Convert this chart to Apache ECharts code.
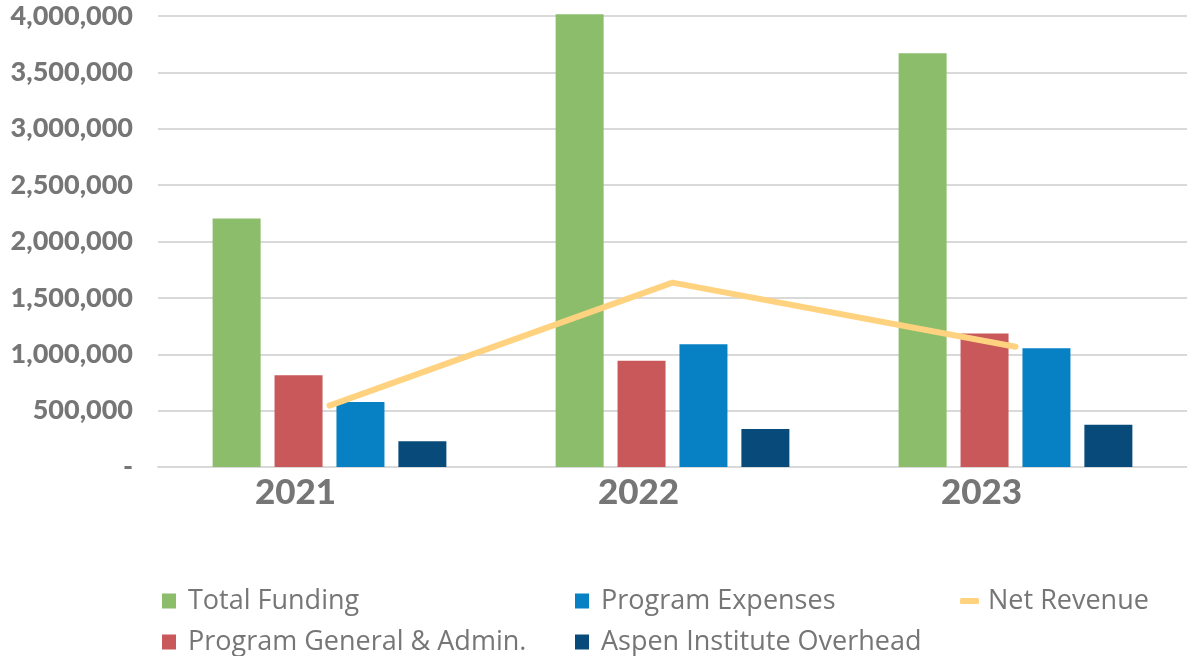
<!DOCTYPE html>
<html>
<head>
<meta charset="utf-8">
<script src="https://cdn.jsdelivr.net/npm/echarts@6/dist/echarts.min.js"></script>
<style>
  html, body { margin: 0; padding: 0; background: #fff; }
  #chart { width: 1187px; height: 656px; }
</style>
</head>
<body>
<div id="chart"></div>
<script>
const years = ['2021', '2022', '2023'];
const totalFunding = [2205000, 4015000, 3670000];
const programGA = [813000, 943000, 1185000];
const programExpenses = [576000, 1088000, 1053000];
const aspenOverhead = [228000, 337000, 374000];
const netRevenue = [545000, 1635000, 1066000];

const gray = '#767676';

// one legend per item so they sit in the same 3-column grid as the original
const legendItem = (name, left, top, isLine) => ({
  left: left,
  top: top,
  padding: 0,
  itemWidth: isLine ? 19 : 14,
  itemHeight: isLine ? 6 : 15,
  icon: isLine ? 'roundRect' : 'rect',
  textStyle: {
    color: gray, fontSize: 27, fontFamily: 'Open Sans', lineHeight: 30,
    padding: [0, 0, 0, isLine ? 4 : 7]
  },
  data: [name]
});

const barBase = (name, data, color) => ({
  name: name,
  type: 'bar',
  data: data,
  barWidth: 48,
  barGap: '29%',
  clip: false,
  itemStyle: { color: color },
  emphasis: { disabled: true }
});

const chart = echarts.init(document.getElementById('chart'));
chart.setOption({
  backgroundColor: '#fff',
  animation: false,
  grid: { left: 158, right: 0, top: 16, bottom: 189 },
  legend: [
    legendItem('Total Funding', 162, 586, false),
    legendItem('Program General & Admin.', 162, 627, false),
    legendItem('Program Expenses', 575, 586, false),
    legendItem('Aspen Institute Overhead', 575, 627, false),
    legendItem('Net Revenue', 960, 586, true)
  ],
  xAxis: {
    type: 'category',
    data: years,
    axisLine: { lineStyle: { color: '#d9d9d9', width: 2 } },
    axisTick: { show: false },
    axisLabel: {
      color: gray, fontSize: 35, fontWeight: 900, fontFamily: 'Lato',
      margin: 8, padding: [0, 68, 0, 0]
    }
  },
  yAxis: {
    type: 'value',
    min: 0,
    max: 4000000,
    interval: 500000,
    axisLine: { show: false },
    axisTick: { show: false },
    splitLine: { lineStyle: { color: '#d9d9d9', width: 2 } },
    axisLabel: {
      color: gray, fontSize: 27, fontWeight: 900, fontFamily: 'Lato',
      margin: 25,
      formatter: v => v === 0 ? '-' : v.toLocaleString('en-US')
    }
  },
  series: [
    barBase('Total Funding', totalFunding, '#8bbd6b'),
    barBase('Program General & Admin.', programGA, '#c9585b'),
    barBase('Program Expenses', programExpenses, '#0781c4'),
    barBase('Aspen Institute Overhead', aspenOverhead, '#084b7b'),
    {
      name: 'Net Revenue',
      type: 'line',
      data: netRevenue,
      symbol: 'none',
      z: 5,
      lineStyle: { color: '#ffd27f', width: 6, cap: 'round', join: 'round' },
      itemStyle: { color: '#ffd27f' },
      emphasis: { disabled: true }
    }
  ]
});
</script>
</body>
</html>
